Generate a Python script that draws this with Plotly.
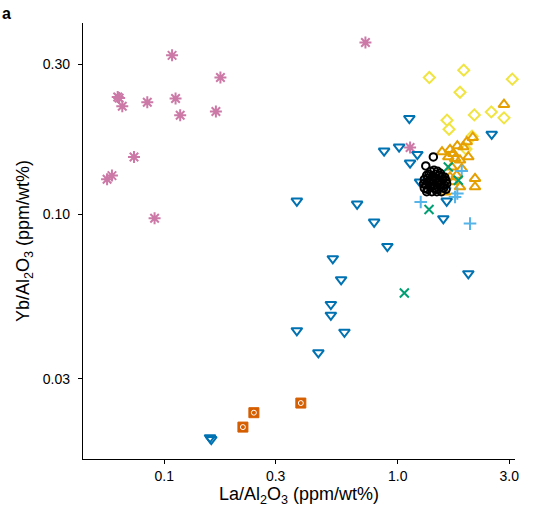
import plotly.graph_objects as go

# ---- data (La/Al2O3, Yb/Al2O3) ----
pink_x = [0.108, 0.174, 0.0632, 0.0641, 0.0661, 0.0846, 0.1118, 0.117, 0.1664, 0.0742, 0.0569, 0.0597, 0.0909, 0.727, 1.129]
pink_y = [0.320, 0.272, 0.236, 0.234, 0.2206, 0.227, 0.2333, 0.2065, 0.2122, 0.1521, 0.1292, 0.1327, 0.0971, 0.3516, 0.163]

verm_x = [0.3845, 0.242, 0.2172]
verm_y = [0.02511, 0.0234, 0.02106]

blue_x = [0.159, 0.157, 0.3697, 0.6698, 0.792, 0.9026, 0.527, 0.572, 0.517, 0.517, 0.3697, 0.591, 0.457,
          2.005, 1.567, 1.62, 1.129, 1.121, 0.874, 1.013, 1.213, 2.525, 1.246]
blue_y = [0.01925, 0.0195, 0.1102, 0.1078, 0.0945, 0.0791, 0.0723, 0.062, 0.0517, 0.0478, 0.0427, 0.0422, 0.0363,
          0.0648, 0.0969, 0.1102, 0.1456, 0.2016, 0.159, 0.1637, 0.1551, 0.1797, 0.1267]

yellow_x = [1.365, 1.916, 3.093, 1.847, 2.127, 2.515, 2.85, 3.272, 1.625, 1.658, 2.08, 1.96]
yellow_y = [0.272, 0.2871, 0.2688, 0.2443, 0.2069, 0.2115, 0.2025, 0.191, 0.1991, 0.1864, 0.177, 0.1613]

orange_x = [2.85, 2.094, 1.974, 1.909, 1.547, 1.674, 1.799, 1.729, 2.005, 1.646, 1.847, 1.759, 1.879, 1.702,
            2.142, 2.142, 1.847, 1.674, 1.788, 1.729, 1.444, 1.594]
orange_y = [0.2233, 0.1754, 0.1698, 0.1637, 0.1578, 0.1606, 0.1649, 0.156, 0.1521, 0.1521, 0.1485, 0.1504, 0.1397, 0.1413,
            0.1299, 0.1221, 0.1221, 0.1314, 0.133, 0.1267, 0.1282, 0.1175]

sky_x = [1.254, 2.039, 1.799, 1.879, 1.759, 1.594]
sky_y = [0.1094, 0.0934, 0.1164, 0.1373, 0.1135, 0.121]

green_x = [1.361, 1.067, 1.646, 1.817]
green_y = [0.1035, 0.0562, 0.1413, 0.1282]

black_x = [1.38, 1.43, 1.48, 1.52,
           1.33, 1.36, 1.41, 1.45, 1.50, 1.55, 1.59,
           1.30, 1.34, 1.37, 1.42, 1.46, 1.51, 1.56, 1.61,
           1.29, 1.32, 1.36, 1.40, 1.44, 1.48, 1.53, 1.58, 1.62,
           1.30, 1.34, 1.38, 1.43, 1.47, 1.52, 1.57, 1.61,
           1.33, 1.40, 1.47, 1.54,
           1.318, 1.42]
black_y = [0.137, 0.138, 0.137, 0.135,
           0.133, 0.134, 0.132, 0.134, 0.133, 0.132, 0.131,
           0.129, 0.130, 0.128, 0.129, 0.130, 0.128, 0.129, 0.128,
           0.125, 0.124, 0.126, 0.125, 0.124, 0.126, 0.125, 0.124, 0.125,
           0.121, 0.120, 0.122, 0.121, 0.120, 0.122, 0.121, 0.120,
           0.118, 0.118, 0.118, 0.118,
           0.1424, 0.1521]

x_tickvals = [0.1, 0.3, 1.0, 3.0]
x_ticktext = ["0.1", "0.3", "1.0", "3.0"]
y_tickvals = [0.03, 0.1, 0.3]
y_ticktext = ["0.03", "0.10", "0.30"]

fig = go.Figure()


def add(x, y, symbol, color, size, lw=2, fill=None):
    fig.add_trace(go.Scatter(
        x=x, y=y, mode="markers", cliponaxis=False, showlegend=False, hoverinfo="skip",
        marker=dict(symbol=symbol, size=size, color=fill if fill else color,
                    line=dict(color=color, width=lw))))


add(pink_x, pink_y, "asterisk-open", "#CC79A7", 10, 2)
add(verm_x, verm_y, "square", "#D55E00", 10, 1, fill="#D55E00")
add(verm_x, verm_y, "circle-open", "white", 5, 1)
add(blue_x, blue_y, "triangle-down-open", "#0072B2", 9.5, 2)
add(yellow_x, yellow_y, "diamond-open", "#F0E442", 8.5, 2)
add(orange_x, orange_y, "triangle-up-open", "#E69F00", 9.5, 2)
add(sky_x, sky_y, "cross-thin-open", "#56B4E9", 9, 2)
add(green_x, green_y, "x-thin-open", "#009E73", 9, 2)
add(black_x, black_y, "circle-open", "black", 7.5, 2)

font = "Liberation Sans, Arial, Helvetica, sans-serif"
axis_common = dict(
    type="log", showgrid=False, zeroline=False, showline=True, linecolor="black", linewidth=1.3,
    ticks="outside", ticklen=4, tickwidth=1.3, tickcolor="black",
    tickfont=dict(family=font, size=14, color="black"), mirror=False)

fig.update_xaxes(**axis_common, range=[-1.348, 0.502], tickvals=x_tickvals, ticktext=x_ticktext,
                 title=dict(text="La/Al<sub>2</sub>O<sub>3</sub> (ppm/wt%)",
                            font=dict(family=font, size=18, color="black"), standoff=4))
fig.update_yaxes(**axis_common, range=[-1.778, -0.392], tickvals=y_tickvals, ticktext=y_ticktext,
                 ticklabelstandoff=5,
                 title=dict(text="Yb/Al<sub>2</sub>O<sub>3</sub> (ppm/wt%)",
                            font=dict(family=font, size=18, color="black"), standoff=8))

fig.add_annotation(text="<b>a</b>", xref="paper", yref="paper", x=-0.192, y=1.0218,
                   xanchor="left", yanchor="middle", showarrow=False,
                   font=dict(family=font, size=16, color="black"))

fig.update_layout(width=546, height=515, plot_bgcolor="white", paper_bgcolor="white",
                  margin=dict(l=83, r=31, t=23, b=56))

fig.write_html("out.html", config={"displayModeBar": False},
               post_script="document.body.style.margin='0px';")
